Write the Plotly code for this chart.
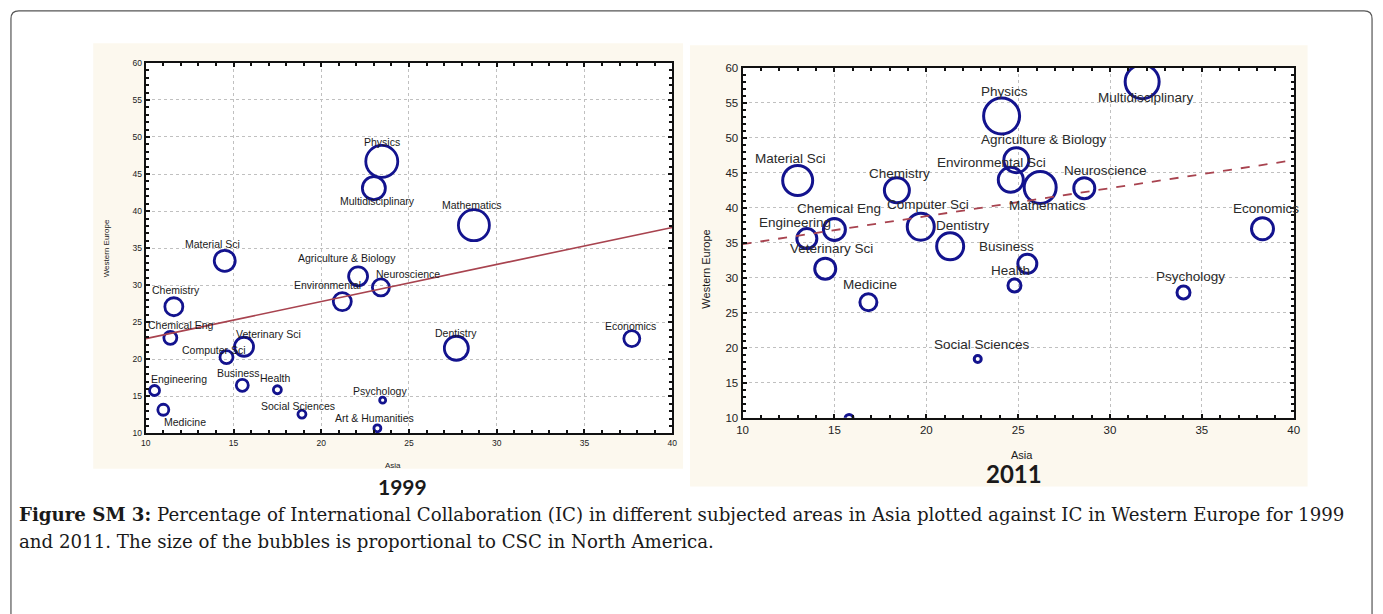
import plotly.graph_objects as go

W, H = 1383, 614

# ---------------- DATA ----------------
subjects_1999 = ["Physics", "Multidisciplinary", "Mathematics", "Material Sci",
                 "Agriculture & Biology", "Neuroscience", "Environmental", "Chemistry",
                 "Chemical Eng", "Computer Sci", "Veterinary Sci", "Dentistry",
                 "Economics", "Engineering", "Business", "Health", "Medicine",
                 "Social Sciences", "Psychology", "Art & Humanities"]
asia_1999 = [23.45, 23.0, 28.7, 14.5, 22.1, 23.4, 21.2, 11.6, 11.4, 14.6, 15.6, 27.7,
             37.7, 10.5, 15.5, 17.5, 11.0, 18.9, 23.5, 23.2]
westeu_1999 = [46.7, 43.1, 38.1, 33.3, 31.2, 29.7, 27.8, 27.1, 22.9, 20.3, 21.7, 21.5,
               22.8, 15.8, 16.5, 15.9, 13.2, 12.6, 14.5, 10.7]
csc_na_1999 = [32, 23, 31, 21, 19, 17, 18, 18, 13, 13, 19, 24, 16, 10, 12, 8, 11, 8, 6, 7]
fit_1999 = [22.8, 0.5]          # intercept at Asia=10, slope

subjects_2011 = ["Multidisciplinary", "Physics", "Agriculture & Biology", "Environmental Sci",
                 "Mathematics", "Neuroscience", "Material Sci", "Chemistry", "Computer Sci",
                 "Dentistry", "Chemical Eng", "Engineering", "Veterinary Sci", "Medicine",
                 "Business", "Health", "Social Sciences", "Art & Humanities", "Economics",
                 "Psychology"]
asia_2011 = [31.75, 24.1, 24.9, 24.6, 26.2, 28.6, 13.0, 18.4, 19.7, 21.3, 15.0, 13.5,
             14.5, 16.85, 25.5, 24.8, 22.8, 15.8, 38.3, 34.0]
westeu_2011 = [58.0, 53.1, 46.8, 44.0, 42.9, 42.8, 43.9, 42.5, 37.3, 34.5, 36.9, 35.6,
               31.3, 26.5, 32.0, 28.9, 18.4, 9.9, 37.0, 27.9]
csc_na_2011 = [34, 36, 25, 25, 32, 21, 30, 25, 27, 27, 22, 20, 21, 17, 19, 13, 7, 8, 22, 13]
fit_2011 = [34.8, 0.4]

x_ticks = [10, 15, 20, 25, 30, 35, 40]
y_ticks = [10, 15, 20, 25, 30, 35, 40, 45, 50, 55, 60]

# ---------------- STYLE: label offsets in pixels (dx, dy screen-down) ----------------
off_1999 = {"Physics": (0, -19), "Multidisciplinary": (4, 13), "Mathematics": (-2, -20),
            "Material Sci": (-12, -17), "Agriculture & Biology": (-11, -18),
            "Neuroscience": (27, -13), "Environmental": (-15, -17), "Chemistry": (2, -17),
            "Chemical Eng": (11, -13), "Computer Sci": (-12, -7), "Veterinary Sci": (24, -13),
            "Dentistry": (0, -15), "Economics": (-1, -13), "Engineering": (24, -11),
            "Business": (-4, -12), "Health": (-2, -12), "Medicine": (22, 12),
            "Social Sciences": (-4, -8), "Psychology": (-3, -9), "Art & Humanities": (-3, -10)}
off_2011 = {"Multidisciplinary": (4, 16), "Physics": (3, -25), "Agriculture & Biology": (28, -21),
            "Environmental Sci": (-19, -17), "Mathematics": (7, 18), "Neuroscience": (21, -18),
            "Material Sci": (-7, -22), "Chemistry": (3, -17), "Computer Sci": (7, -22),
            "Dentistry": (13, -21), "Chemical Eng": (5, -21), "Engineering": (-12, -16),
            "Veterinary Sci": (6, -20), "Medicine": (2, -18), "Business": (-21, -17),
            "Health": (-4, -15), "Social Sciences": (4, -14), "Art & Humanities": (5, -12),
            "Economics": (4, -20), "Psychology": (7, -16)}

BLUE = "#13138e"
RED = "#a8434f"
BEIGE = "#fcf8ee"

# plot-area pixel boxes
L = dict(x0=141, x1=672, y0=58, y1=436)
R = dict(x0=743, x1=1299, y0=63, y1=420)


def px(x):
    return x / W


def py(y):
    return 1 - y / H


fig = go.Figure()

# bubbles
fig.add_trace(go.Scatter(
    x=asia_1999, y=westeu_1999, mode="markers", xaxis="x", yaxis="y",
    marker=dict(symbol="circle-open", size=csc_na_1999, sizemode="diameter", sizeref=1,
                color=BLUE, opacity=1, line=dict(width=2.8, color=BLUE)),
    hovertext=subjects_1999, showlegend=False))
fig.add_trace(go.Scatter(
    x=asia_2011, y=westeu_2011, mode="markers", xaxis="x2", yaxis="y2",
    marker=dict(symbol="circle-open", size=csc_na_2011, sizemode="diameter", sizeref=1,
                color=BLUE, opacity=1, line=dict(width=3, color=BLUE)),
    hovertext=subjects_2011, showlegend=False))

# regression lines
xs = [x_ticks[0], x_ticks[-1]]
fig.add_trace(go.Scatter(
    x=xs, y=[fit_1999[0] + fit_1999[1] * (v - 10) for v in xs], mode="lines",
    xaxis="x", yaxis="y", line=dict(color=RED, width=1.6), showlegend=False))
fig.add_trace(go.Scatter(
    x=xs, y=[fit_2011[0] + fit_2011[1] * (v - 10) for v in xs], mode="lines",
    xaxis="x2", yaxis="y2", line=dict(color=RED, width=1.8, dash="dash"), showlegend=False))

annotations = []
for name, xv, yv in zip(subjects_1999, asia_1999, westeu_1999):
    dx, dy = off_1999[name]
    annotations.append(dict(x=xv, y=yv, xref="x", yref="y", text=name, showarrow=False,
                            xanchor="center", yanchor="middle", xshift=dx, yshift=-dy,
                            font=dict(family="Liberation Sans", size=10.5, color="#1a1a1a")))
for name, xv, yv in zip(subjects_2011, asia_2011, westeu_2011):
    dx, dy = off_2011[name]
    annotations.append(dict(x=xv, y=yv, xref="x2", yref="y2", text=name, showarrow=False,
                            xanchor="center", yanchor="middle", xshift=dx, yshift=-dy,
                            font=dict(family="Liberation Sans", size=13.5, color="#2a2a2a")))


def paper_text(xp, yp, text, size, family="Liberation Sans", angle=0, xanchor="center"):
    return dict(x=px(xp), y=py(yp), xref="paper", yref="paper", text=text, showarrow=False,
                xanchor=xanchor, yanchor="middle", textangle=angle,
                font=dict(family=family, size=size, color="#1a1a1a"))


annotations += [
    paper_text(101, (L["y0"] + L["y1"]) / 2, "Western Europe", 8, angle=-90),
    paper_text(390, 469, "Asia", 8),
    paper_text(400, 490, "<b>1999</b>", 21, family="Lato"),
    paper_text(706, 268, "Western Europe", 11, angle=-90),
    paper_text(1025, 458, "Asia", 11),
    paper_text(1017, 477, "<b>2011</b>", 24, family="Lato"),
    paper_text(11, 519, "<b>Figure SM 3:</b> Percentage of International Collaboration (IC) in different "
               "subjected areas in Asia plotted against IC in Western Europe for 1999",
               18.2, family="DejaVu Serif", xanchor="left"),
    paper_text(11, 546, "and 2011. The size of the bubbles is proportional to CSC in North America.",
               18.2, family="DejaVu Serif", xanchor="left"),
]

shapes = [
    dict(type="rect", xref="paper", yref="paper", x0=px(88), x1=px(683), y0=py(472), y1=py(38),
         fillcolor=BEIGE, line=dict(width=0), layer="below"),
    dict(type="rect", xref="paper", yref="paper", x0=px(690), x1=px(1313), y0=py(490), y1=py(40),
         fillcolor=BEIGE, line=dict(width=0), layer="below"),
    dict(type="rect", xref="paper", yref="paper", x0=px(L["x0"]), x1=px(L["x1"]),
         y0=py(L["y1"]), y1=py(L["y0"]), fillcolor="white", line=dict(width=0), layer="below"),
    dict(type="rect", xref="paper", yref="paper", x0=px(R["x0"]), x1=px(R["x1"]),
         y0=py(R["y1"]), y1=py(R["y0"]), fillcolor="white", line=dict(width=0), layer="below"),
]
# outer rounded frame
r = 8
x0f, x1f, y0f, y1f = 5, 1378, 5, 640
path = (f"M {px(x0f)},{py(y1f)} L {px(x0f)},{py(y0f + r)} Q {px(x0f)},{py(y0f)} {px(x0f + r)},{py(y0f)} "
        f"L {px(x1f - r)},{py(y0f)} Q {px(x1f)},{py(y0f)} {px(x1f)},{py(y0f + r)} L {px(x1f)},{py(y1f)}")
shapes.append(dict(type="path", xref="paper", yref="paper", path=path,
                   line=dict(color="#555555", width=1.2)))


def axis(domain, anchor, tickvals, rng, fsize, lw):
    return dict(domain=domain, anchor=anchor, range=rng, tickvals=tickvals,
                showgrid=True, gridcolor="#c0c0c0", griddash="dot", gridwidth=1,
                zeroline=False, showline=True, linecolor="#111", linewidth=lw, mirror="allticks",
                ticks="inside", ticklen=4, tickcolor="#111", tickwidth=1.5,
                minor=dict(ticks="inside", ticklen=3, dtick=1, tickcolor="#111", showgrid=False),
                tickfont=dict(family="Liberation Sans", size=fsize, color="#222"))


fig.update_layout(
    width=W, height=H, margin=dict(l=0, r=0, t=0, b=0),
    paper_bgcolor="white", plot_bgcolor="rgba(0,0,0,0)",
    xaxis=axis([px(L["x0"]), px(L["x1"])], "y", x_ticks, [10, 40], 8.5, 2),
    yaxis=axis([py(L["y1"]), py(L["y0"])], "x", y_ticks, [10, 60], 8.5, 2),
    xaxis2=axis([px(R["x0"]), px(R["x1"])], "y2", x_ticks, [10, 40], 11.5, 2),
    yaxis2=axis([py(R["y1"]), py(R["y0"])], "x2", y_ticks, [10, 60], 11.5, 2),
    annotations=annotations, shapes=shapes,
)

fig.write_html("out.html", config={"displayModeBar": False},
               post_script="document.body.style.margin='0';document.body.style.overflow='hidden';")
